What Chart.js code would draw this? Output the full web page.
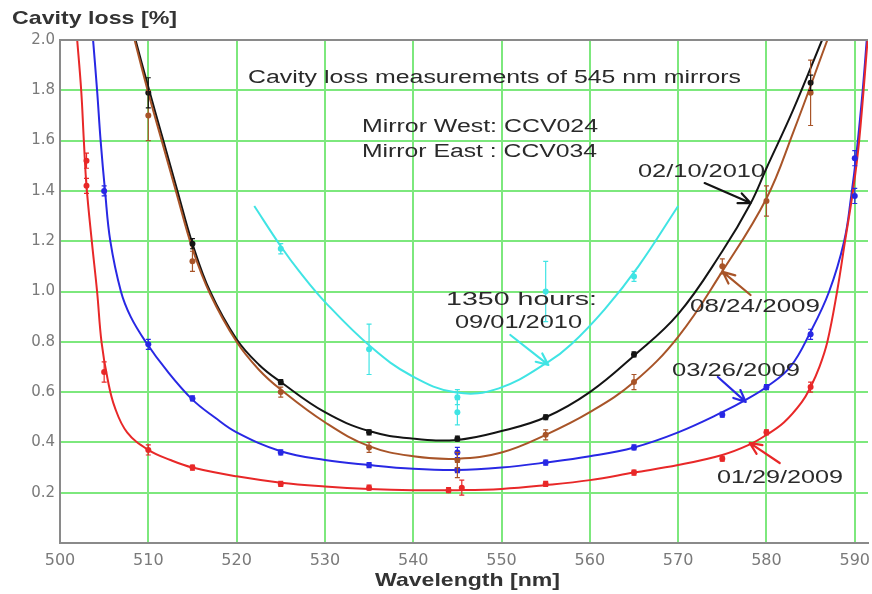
<!DOCTYPE html>
<html>
<head>
<meta charset="utf-8">
<script src="https://cdn.jsdelivr.net/npm/chart.js@4.4.1/dist/chart.umd.min.js"></script>
<style>
html,body{margin:0;padding:0;background:#fff;}
canvas{display:block;}
</style>
</head>
<body>
<canvas id="c" width="872" height="594"></canvas>
<script>
// ---------- data ----------
const xTicks = [500, 510, 520, 530, 540, 550, 560, 570, 580, 590];
const yTicks = [0.2, 0.4, 0.6, 0.8, 1.0, 1.2, 1.4, 1.6, 1.8, 2.0];

// fitted curves (wavelength nm, loss %)
const redFitWl   = [501.9, 502.4, 502.7, 503.0, 503.6, 504.2, 504.7, 505.4, 506.2, 507.6, 510, 512.5, 515, 520, 525, 530, 535, 540, 545, 550, 555, 560, 565, 570, 575, 578, 580, 582, 584, 585, 586, 586.9, 588.0, 588.9, 589.8, 590.5, 591.5];
const redFitLoss = [2.02, 1.8, 1.6, 1.42, 1.2, 1.0, 0.8, 0.65, 0.54, 0.44, 0.37, 0.33, 0.30, 0.265, 0.24, 0.225, 0.215, 0.21, 0.21, 0.215, 0.23, 0.25, 0.28, 0.31, 0.35, 0.39, 0.43, 0.48, 0.56, 0.62, 0.70, 0.80, 1.0, 1.2, 1.4, 1.6, 2.02];

const blueFitWl   = [503.7, 504.2, 504.6, 505.1, 505.7, 506.9, 508.0, 509.7, 512.0, 515, 517.5, 520, 525, 530, 535, 540, 545, 550, 555, 560, 565, 570, 575, 577.7, 580, 582.7, 585, 587.1, 588.8, 589.6, 590.2, 590.9, 591.4];
const blueFitLoss = [2.02, 1.8, 1.6, 1.4, 1.2, 1.0, 0.9, 0.8, 0.69, 0.57, 0.50, 0.44, 0.365, 0.33, 0.31, 0.295, 0.29, 0.30, 0.32, 0.345, 0.38, 0.44, 0.52, 0.57, 0.62, 0.70, 0.84, 1.0, 1.2, 1.38, 1.55, 1.8, 2.02];

const blackFitWl   = [508.4, 510.1, 511.7, 513.3, 515, 517, 520, 522.5, 525, 530, 535, 540, 545, 550, 555, 560, 565, 570, 575, 578.2, 580, 583, 586.3];
const blackFitLoss = [2.02, 1.8, 1.6, 1.4, 1.19, 1.0, 0.81, 0.71, 0.64, 0.52, 0.445, 0.415, 0.41, 0.445, 0.50, 0.60, 0.745, 0.91, 1.16, 1.35, 1.49, 1.72, 2.0];

const brownFitWl   = [508.3, 510.0, 511.6, 513.2, 515, 517, 520, 522.5, 525, 530, 535, 540, 545, 550, 555, 560, 565, 570, 575, 580, 583, 586.9];
const brownFitLoss = [2.02, 1.79, 1.59, 1.39, 1.17, 0.99, 0.80, 0.69, 0.61, 0.48, 0.385, 0.345, 0.335, 0.36, 0.43, 0.52, 0.64, 0.82, 1.08, 1.37, 1.63, 2.0];

const cyanFitWl   = [522.0, 525, 527.1, 530.1, 535.2, 539.8, 544.9, 549.7, 555.3, 557.9, 561.7, 565.5, 570];
const cyanFitLoss = [1.34, 1.18, 1.08, 0.955, 0.78, 0.665, 0.598, 0.615, 0.72, 0.79, 0.93, 1.10, 1.34];

// measured points with error bars
const redPtWl   = [503, 503, 505, 510, 515, 525, 535, 544, 545.5, 555, 565, 575, 580, 585];
const redPtLoss = [1.52, 1.42, 0.68, 0.37, 0.30, 0.235, 0.22, 0.21, 0.22, 0.235, 0.28, 0.335, 0.44, 0.62];
const redPtErr  = [0.03, 0.03, 0.04, 0.02, 0.01, 0.01, 0.01, 0.01, 0.03, 0.01, 0.01, 0.01, 0.01, 0.02];

const bluePtWl   = [505, 510, 515, 525, 535, 545, 545, 555, 565, 575, 580, 585, 590, 590];
const bluePtLoss = [1.40, 0.79, 0.575, 0.36, 0.31, 0.29, 0.36, 0.32, 0.38, 0.51, 0.62, 0.83, 1.38, 1.53];
const bluePtErr  = [0.02, 0.02, 0.01, 0.01, 0.01, 0.01, 0.02, 0.01, 0.01, 0.01, 0.01, 0.02, 0.03, 0.03];

const blackPtWl   = [510, 515, 525, 535, 545, 555, 565, 585];
const blackPtLoss = [1.79, 1.19, 0.64, 0.44, 0.415, 0.50, 0.75, 1.83];
const blackPtErr  = [0.06, 0.02, 0.01, 0.01, 0.01, 0.01, 0.01, 0.03];

const brownPtWl   = [510, 515, 525, 535, 545, 545, 555, 565, 575, 580, 585];
const brownPtLoss = [1.70, 1.12, 0.60, 0.38, 0.33, 0.29, 0.43, 0.64, 1.10, 1.36, 1.79];
const brownPtErr  = [0.10, 0.04, 0.02, 0.02, 0.03, 0.03, 0.02, 0.03, 0.03, 0.06, 0.13];

const cyanPtWl   = [525, 535, 545, 545, 555, 565];
const cyanPtLoss = [1.17, 0.77, 0.58, 0.52, 1.00, 1.06];
const cyanPtErr  = [0.02, 0.10, 0.03, 0.05, 0.12, 0.02];

const seriesNames = ['01/29/2009', '03/26/2009', '08/24/2009', '02/10/2010', '1350 hours: 09/01/2010'];

// ---------- styles ----------
const COL = {
  red: 'rgb(232,40,40)',
  blue: 'rgb(40,40,228)',
  black: 'rgb(20,20,20)',
  brown: 'rgb(168,84,40)',
  cyan: 'rgb(64,228,228)'
};

function pairs(xs, ys) { return xs.map((x, i) => ({ x: x, y: ys[i] })); }

function fitDs(label, xs, ys, color) {
  return { label: label, data: pairs(xs, ys), borderColor: color, backgroundColor: color,
    borderWidth: 2, pointRadius: 0, tension: 0.4, fill: false, order: 2 };
}
function ptDs(label, xs, ys, errs, color) {
  return { label: label + ' data', data: pairs(xs, ys), errs: errs, showLine: false,
    borderColor: color, backgroundColor: color, pointRadius: 3, pointBorderWidth: 0, order: 1 };
}

const datasets = [
  fitDs(seriesNames[0], redFitWl, redFitLoss, COL.red),
  fitDs(seriesNames[1], blueFitWl, blueFitLoss, COL.blue),
  fitDs(seriesNames[2], brownFitWl, brownFitLoss, COL.brown),
  fitDs(seriesNames[3], blackFitWl, blackFitLoss, COL.black),
  fitDs(seriesNames[4], cyanFitWl, cyanFitLoss, COL.cyan),
  ptDs(seriesNames[0], redPtWl, redPtLoss, redPtErr, COL.red),
  ptDs(seriesNames[1], bluePtWl, bluePtLoss, bluePtErr, COL.blue),
  ptDs(seriesNames[2], brownPtWl, brownPtLoss, brownPtErr, COL.brown),
  ptDs(seriesNames[3], blackPtWl, blackPtLoss, blackPtErr, COL.black),
  ptDs(seriesNames[4], cyanPtWl, cyanPtLoss, cyanPtErr, COL.cyan)
];

// ---------- plugins ----------
const bgPlugin = {
  id: 'bg',
  beforeDraw(chart) {
    const ctx = chart.ctx;
    ctx.save(); ctx.fillStyle = '#fff'; ctx.fillRect(0, 0, chart.width, chart.height); ctx.restore();
  }
};

const errPlugin = {
  id: 'errbars',
  afterDatasetsDraw(chart) {
    const ctx = chart.ctx, xs = chart.scales.x, ys = chart.scales.y;
    ctx.save();
    chart.data.datasets.forEach(ds => {
      if (!ds.errs) return;
      ctx.strokeStyle = ds.borderColor; ctx.lineWidth = 1.2;
      ds.data.forEach((p, i) => {
        const e = ds.errs[i];
        const px = xs.getPixelForValue(p.x);
        const y1 = ys.getPixelForValue(p.y - e), y2 = ys.getPixelForValue(p.y + e);
        ctx.beginPath();
        ctx.moveTo(px, y1); ctx.lineTo(px, y2);
        ctx.moveTo(px - 2.5, y1); ctx.lineTo(px + 2.5, y1);
        ctx.moveTo(px - 2.5, y2); ctx.lineTo(px + 2.5, y2);
        ctx.stroke();
      });
    });
    ctx.restore();
  }
};

function fitText(ctx, txt, x0, x1, cy, font, color) {
  ctx.save();
  ctx.font = font;
  const w = ctx.measureText(txt).width;
  ctx.translate(x0, cy);
  ctx.scale((x1 - x0) / w, 1);
  ctx.fillStyle = color;
  ctx.textBaseline = 'middle';
  ctx.textAlign = 'left';
  ctx.fillText(txt, 0, 0);
  ctx.restore();
}

function arrow(ctx, x1, y1, x2, y2, color) {
  const a = Math.atan2(y2 - y1, x2 - x1), L = 13, s = 0.42;
  ctx.save();
  ctx.strokeStyle = color; ctx.lineWidth = 2.2; ctx.lineCap = 'round';
  ctx.beginPath();
  ctx.moveTo(x1, y1); ctx.lineTo(x2, y2);
  ctx.moveTo(x2, y2); ctx.lineTo(x2 - L * Math.cos(a - s), y2 - L * Math.sin(a - s));
  ctx.moveTo(x2, y2); ctx.lineTo(x2 - L * Math.cos(a + s), y2 - L * Math.sin(a + s));
  ctx.stroke();
  ctx.restore();
}

// arrows in data coordinates: [tailWl, tailLoss, tipWl, tipLoss]
const arrowSpecs = [
  { c: COL.black, p: [573.0, 1.431, 578.2, 1.352] },
  { c: COL.brown, p: [578.2, 0.986, 575.05, 1.078] },
  { c: COL.blue,  p: [574.5, 0.66, 577.65, 0.561] },
  { c: COL.red,   p: [581.5, 0.318, 578.1, 0.398] },
  { c: COL.cyan,  p: [551.0, 0.827, 555.3, 0.708] }
];

const annoPlugin = {
  id: 'anno',
  afterDraw(chart) {
    const ctx = chart.ctx, xs = chart.scales.x, ys = chart.scales.y, a = chart.chartArea;
    // top frame line
    ctx.save();
    ctx.strokeStyle = '#8a8a8a'; ctx.lineWidth = 2;
    ctx.beginPath(); ctx.moveTo(a.left, a.top); ctx.lineTo(a.right, a.top); ctx.stroke();
    ctx.restore();

    arrowSpecs.forEach(s => {
      arrow(ctx, xs.getPixelForValue(s.p[0]), ys.getPixelForValue(s.p[1]),
                 xs.getPixelForValue(s.p[2]), ys.getPixelForValue(s.p[3]), s.c);
    });

    const tc = '#2a2a2a';
    fitText(ctx, 'Cavity loss [%]', 12, 177, 19, 'bold 19px "Liberation Sans"', '#333');
    fitText(ctx, 'Wavelength [nm]', 375, 560, 581, 'bold 19px "Liberation Sans"', '#333');
    fitText(ctx, 'Cavity loss measurements of 545 nm mirrors', 248, 741, 78, '18px "Liberation Sans"', tc);
    fitText(ctx, 'Mirror West: CCV024', 362, 598, 127, '18px "Liberation Sans"', tc);
    fitText(ctx, 'Mirror East : CCV034', 362, 597, 152, '18px "Liberation Sans"', tc);
    fitText(ctx, '02/10/2010', 638, 765, 172, '19px "Liberation Sans"', tc);
    fitText(ctx, '1350 hours:', 446, 597, 300, '19px "Liberation Sans"', tc);
    fitText(ctx, '09/01/2010', 455, 582, 323, '19px "Liberation Sans"', tc);
    fitText(ctx, '08/24/2009', 690, 820, 307, '19px "Liberation Sans"', tc);
    fitText(ctx, '03/26/2009', 672, 800, 371, '19px "Liberation Sans"', tc);
    fitText(ctx, '01/29/2009', 717, 843, 478, '19px "Liberation Sans"', tc);
  }
};

// ---------- chart ----------
new Chart(document.getElementById('c'), {
  type: 'line',
  data: { datasets: datasets },
  options: {
    responsive: false,
    animation: false,
    devicePixelRatio: 1,
    layout: { padding: { top: 40, right: 1, left: 0, bottom: 0 } },
    plugins: { legend: { display: false }, tooltip: { enabled: false } },
    scales: {
      x: {
        type: 'linear', min: xTicks[0], max: 591.5,
        afterBuildTicks(s) { s.ticks = xTicks.map(v => ({ value: v })); },
        ticks: { color: '#7a7a7a', font: { family: 'DejaVu Sans', size: 16 }, padding: 8,
                 callback: v => String(v), maxRotation: 0, autoSkip: false },
        grid: { color: 'rgb(125,232,125)', lineWidth: 2, drawTicks: false },
        border: { color: '#8a8a8a', width: 2 },
        afterFit(s) { s.height = 51; s.paddingLeft = 0; s.paddingRight = 0; }
      },
      y: {
        min: 0, max: 2.0,
        afterBuildTicks(s) { s.ticks = [0].concat(yTicks).map(v => ({ value: v })); },
        ticks: { color: '#7a7a7a', font: { family: 'DejaVu Sans', size: 15 }, padding: 5,
                 callback: v => (v === 0 ? '' : v.toFixed(1)), autoSkip: false },
        grid: { color: 'rgb(125,232,125)', lineWidth: 2, drawTicks: false },
        border: { color: '#8a8a8a', width: 2 },
        afterFit(s) { s.width = 60; s.paddingTop = 0; s.paddingBottom = 0; }
      }
    }
  },
  plugins: [bgPlugin, errPlugin, annoPlugin]
});
</script>
</body>
</html>
